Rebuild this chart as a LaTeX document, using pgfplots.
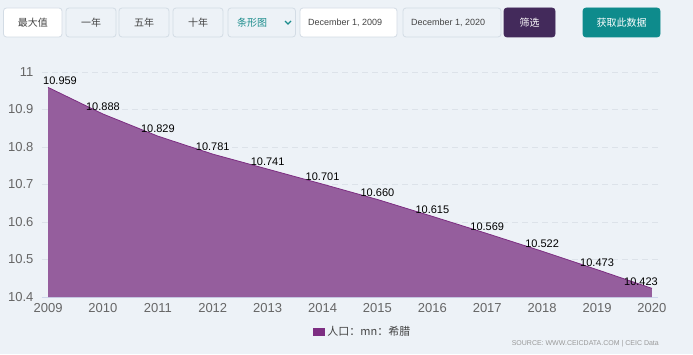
\documentclass[border=0pt]{standalone}
\usepackage{fontspec}
\setmainfont{Liberation Sans}
\newfontfamily\cjk{Noto Sans CJK SC}
\usepackage{pgfplots}
\pgfplotsset{compat=1.18}
\definecolor{bg}{HTML}{EDF2F7}
\definecolor{btnborder}{HTML}{D3DCE5}
\definecolor{txtdark}{HTML}{444444}
\definecolor{teal}{HTML}{1B8C8C}
\definecolor{tealbtn}{HTML}{0E8B8C}
\definecolor{purplebtn}{HTML}{432A5B}
\definecolor{areacol}{HTML}{955E9D}
\definecolor{seriescol}{HTML}{7D2E82}
\definecolor{gridcol}{HTML}{DCE2E9}
\definecolor{axislinecol}{HTML}{CCD6EB}
\definecolor{tickcol}{HTML}{666666}
\definecolor{srccol}{HTML}{999999}

\pgfplotstableread{
year val lab
2009 10.959 10.959
2010 10.888 10.888
2011 10.829 10.829
2012 10.781 10.781
2013 10.741 10.741
2014 10.701 10.701
2015 10.660 10.660
2016 10.615 10.615
2017 10.569 10.569
2018 10.522 10.522
2019 10.473 10.473
2020 10.423 10.423
}\datatable

\pgfplotstableread{
year val lab
2010 10.888 10.888
2011 10.829 10.829
2012 10.781 10.781
2013 10.741 10.741
2014 10.701 10.701
2015 10.660 10.660
2016 10.615 10.615
2017 10.569 10.569
2018 10.522 10.522
2019 10.473 10.473
}\midtable

\pgfplotstableread{
year val lab
2009 10.959 10.959
}\firsttable

\pgfplotstableread{
year val lab
2020 10.423 10.423
}\lasttable

\begin{document}
\begin{tikzpicture}
\begin{scope}[x=1pt,y=1pt]
\fill[bg] (0,0) rectangle (693,354);
% toolbar buttons
\tikzset{btn/.style={draw=btnborder, line width=0.8pt, rounded corners=3pt},
  btxt/.style={font=\cjk\fontsize{10}{12}\selectfont, text=txtdark, inner sep=0pt}}
\draw[btn, fill=white] (3.5,317) rectangle (62,346);
\node[btxt] at (32.75,331.5) {最大值};
\draw[btn, fill=bg] (66,317) rectangle (116,346);
\node[btxt] at (91,331.5) {一年};
\draw[btn, fill=bg] (119,317) rectangle (169,346);
\node[btxt] at (144,331.5) {五年};
\draw[btn, fill=bg] (173,317) rectangle (223,346);
\node[btxt] at (198,331.5) {十年};
\draw[btn, fill=bg] (228,317) rectangle (295.5,346);
\node[btxt, text=teal] at (252,331.5) {条形图};
\draw[teal, line width=1.3pt] (285,333) -- (288,330) -- (291,333);
\draw[btn, fill=white] (300,317) rectangle (397,346);
\node[btxt, font=\fontsize{9}{11}\selectfont, anchor=west] at (308,331.5) {December 1, 2009};
\draw[btn, fill=bg] (403,317) rectangle (501,346);
\node[btxt, font=\fontsize{9}{11}\selectfont, anchor=west] at (411,331.5) {December 1, 2020};
\draw[btn, draw=purplebtn, fill=purplebtn] (504,317) rectangle (555,346);
\node[btxt, text=white] at (529.5,331.5) {筛选};
\draw[btn, draw=tealbtn, fill=tealbtn] (583,317) rectangle (660,346);
\node[btxt, text=white] at (621.5,331.5) {获取此数据};
\node[anchor=east, font=\fontsize{7}{8}\selectfont, text=srccol, inner sep=0pt] at (659,10) {SOURCE: WWW.CEICDATA.COM | CEIC Data};
\end{scope}

\begin{axis}[
  at={(42pt,57pt)}, anchor=south west,
  scale only axis, width=616pt, height=225pt,
  xmin=2008.89, xmax=2020.11, ymin=10.4, ymax=11,
  axis line style={draw=none},
  major tick length=0pt,
  xtick={2009,2010,...,2020},
  ytick={10.4,10.5,10.6,10.7,10.8,10.9,11},
  ymajorgrids,
  grid style={gridcol, dash pattern=on 6pt off 4pt, line width=0.8pt},
  /pgf/number format/assume math mode=true,
  xticklabel style={/pgf/number format/1000 sep={}, font=\fontsize{13}{15}\selectfont, text=tickcol, yshift=-2.5pt},
  yticklabel style={/pgf/number format/fixed, /pgf/number format/precision=1, font=\fontsize{13}{15}\selectfont, text=tickcol, xshift=-5pt},
  legend style={at={(0.521,-0.156)}, anchor=center, draw=none, fill=none,
    font=\cjk\fontsize{11}{13}\selectfont, text=txtdark, inner sep=0pt},
  legend image code/.code={\fill[seriescol] (0pt,-4pt) rectangle (12pt,4pt);},
]
\draw[axislinecol, line width=0.8pt] (rel axis cs:0,0) -- (rel axis cs:1,0);
\addplot[fill=areacol, draw=none] table[x=year, y=val] {\datatable} \closedcycle;
\addlegendentry{人口：mn：希腊}
\addplot[draw=seriescol, line width=0.8pt, mark=none, forget plot] table[x=year, y=val] {\datatable};
\addplot[draw=none, mark=none, forget plot, nodes near coords, point meta=explicit symbolic,
  every node near coord/.append style={font=\fontsize{11}{13}\selectfont, text=black, inner sep=0pt, anchor=south, yshift=3pt}]
  table[x=year, y=val, meta=lab] {\midtable};
\addplot[draw=none, mark=none, forget plot, nodes near coords, point meta=explicit symbolic,
  every node near coord/.append style={font=\fontsize{11}{13}\selectfont, text=black, inner sep=0pt, anchor=south, yshift=3pt, xshift=12pt}]
  table[x=year, y=val, meta=lab] {\firsttable};
\addplot[draw=none, mark=none, forget plot, nodes near coords, point meta=explicit symbolic,
  every node near coord/.append style={font=\fontsize{11}{13}\selectfont, text=black, inner sep=0pt, anchor=south, yshift=3pt, xshift=-11pt}]
  table[x=year, y=val, meta=lab] {\lasttable};
\end{axis}
\pgfresetboundingbox
\useasboundingbox (0pt,0pt) rectangle (693pt,354pt);
\end{tikzpicture}
\end{document}
